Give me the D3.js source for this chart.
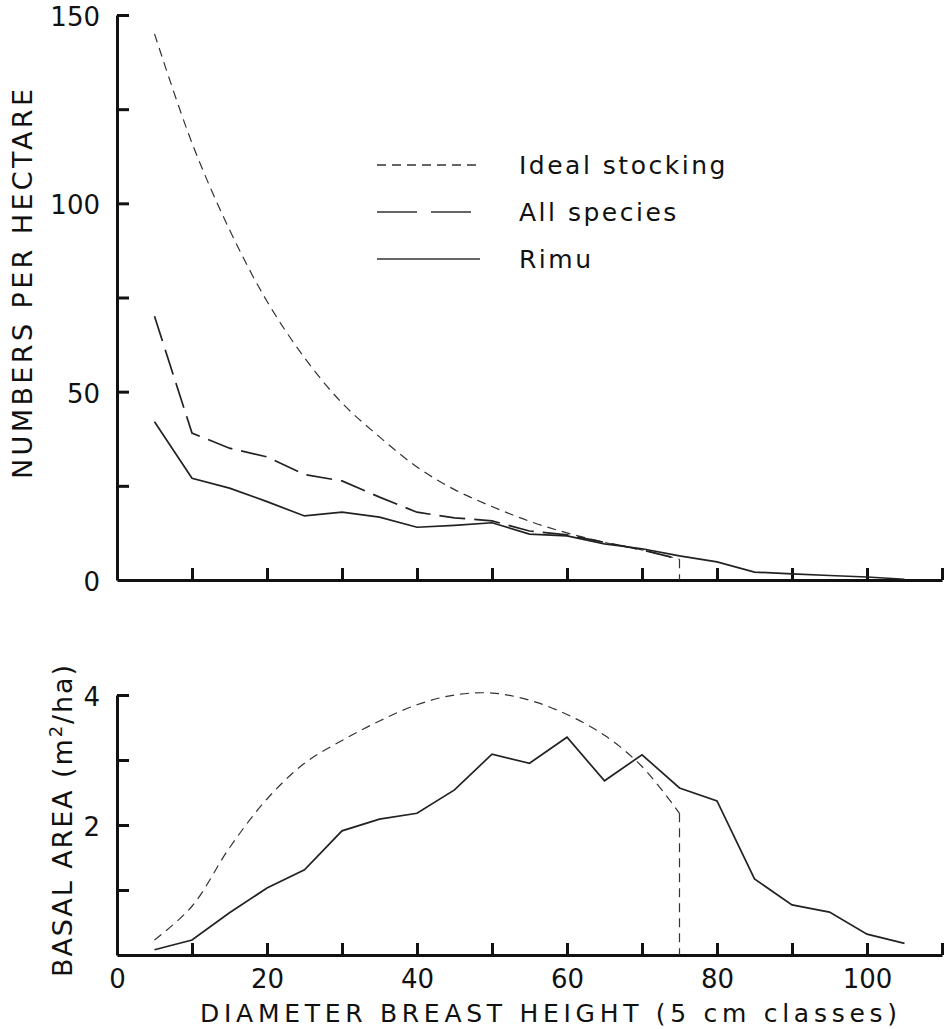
<!DOCTYPE html>
<html>
<head>
<meta charset="utf-8">
<script src="https://cdn.jsdelivr.net/npm/d3@7"></script>
<style>
  body { margin: 0; background: #fff; }
  svg text { font-family: "DejaVu Sans", sans-serif; fill: #111; }
  .axis path, .axis line { stroke: #111; stroke-width: 3; }
  .axis text { font-size: 26px; }
</style>
</head>
<body>
<script>
//diameter classes (5 cm)
var dbhClasses = [5,10,15,20,25,30,35,40,45,50,55,60,65,70,75,80,85,90,95,100,105];
//numbers per hectare
var idealNumbers = [145,116,93,74,59,47,38,30,24,19.5,15.6,12.5,10,8,5.5];
var allNumbers = [70,39,35,32.7,28,26.3,22,18,16.5,15.7,13,12,10,8,5.5];
var rimuNumbers = [42,27,24.4,20.8,17,18,16.7,14,14.5,15.2,12.2,11.7,9.6,8.3,6.4,4.8,2.1,1.6,1.2,0.8,0.2];
//basal area m2/ha
var idealBasal = [0.23,0.75,1.65,2.4,2.95,3.3,3.6,3.85,4.0,4.03,3.92,3.7,3.38,2.9,2.18];
var rimuBasal = [0.08,0.23,0.65,1.03,1.31,1.91,2.09,2.18,2.54,3.09,2.95,3.35,2.68,3.08,2.57,2.37,1.17,0.77,0.66,0.32,0.18];
//ticks
var xTicks = [10,20,30,40,50,60,70,80,90,100,110];
var xLabels = [0,20,40,60,80,100];
var topYTicks = [25,50,75,100,125,150];
var topYLabels = [0,50,100,150];
var botYTicks = [1,2,3,4];
var botYLabels = [2,4];
var legendNames = ["Ideal stocking","All species","Rimu"];

var width = 952, height = 1029;
var svg = d3.select("body").append("svg")
    .attr("width", width)
    .attr("height", height);

var x = d3.scaleLinear().domain([0,110]).range([117,942]);
var yTop = d3.scaleLinear().domain([0,150]).range([580,15]);
var yBot = d3.scaleLinear().domain([0,4]).range([955,695]);

var idealDash = "9,6", allDash = "26,9";

function pairs(vals){
    return vals.map(function(v,i){ return [dbhClasses[i], v]; });
}

function drawLine(y, vals, dash, width, curve, color){
    var line = d3.line()
        .x(function(d){ return x(d[0]); })
        .y(function(d){ return y(d[1]); })
        .curve(curve || d3.curveLinear);
    svg.append("path")
        .datum(pairs(vals))
        .attr("d", line)
        .attr("fill", "none")
        .attr("stroke", color || "#222")
        .attr("stroke-width", width)
        .attr("stroke-dasharray", dash);
}

//vertical drop at the last class of a series
function drawDrop(y, vals, dash, width){
    var i = vals.length - 1;
    svg.append("line")
        .attr("x1", x(dbhClasses[i])).attr("x2", x(dbhClasses[i]))
        .attr("y1", y(vals[i])).attr("y2", y(0))
        .attr("stroke", "#333")
        .attr("stroke-width", width)
        .attr("stroke-dasharray", dash);
}

function drawAxes(y, yTicks, yLabels, showXLabels){
    //x ticks
    svg.append("g").attr("class", "axis")
        .attr("transform", "translate(0," + y(0) + ")")
        .call(d3.axisBottom(x).tickValues(xTicks).tickSize(-12).tickSizeOuter(0).tickFormat(""));
    if (showXLabels){
        var g = svg.append("g").attr("class", "axis")
            .attr("transform", "translate(0," + y(0) + ")")
            .call(d3.axisBottom(x).tickValues(xLabels).tickSize(0).tickPadding(15));
        g.select(".domain").remove();
    }
    //y ticks
    svg.append("g").attr("class", "axis")
        .attr("transform", "translate(" + x(0) + ",0)")
        .call(d3.axisLeft(y).tickValues(yTicks).tickSize(-12).tickSizeOuter(0).tickFormat(""));
    var gy = svg.append("g").attr("class", "axis")
        .attr("transform", "translate(" + x(0) + ",0)")
        .call(d3.axisLeft(y).tickValues(yLabels).tickSize(0).tickPadding(17).tickFormat(d3.format("d")));
    gy.select(".domain").remove();
    gy.selectAll("text").attr("dy", "0.4em");
}

//top panel
drawAxes(yTop, topYTicks, topYLabels, false);
drawLine(yTop, idealNumbers, idealDash, 1.2, d3.curveCatmullRom, "#333");
drawDrop(yTop, idealNumbers, idealDash, 1.2);
drawLine(yTop, allNumbers, allDash, 1.7);
drawLine(yTop, rimuNumbers, null, 1.7);

//legend
var legendY = [165, 212, 259];
var legendDash = [idealDash, "40,14", null];
legendNames.forEach(function(name, i){
    svg.append("line")
        .attr("x1", 377).attr("x2", 480)
        .attr("y1", legendY[i]).attr("y2", legendY[i])
        .attr("stroke", "#333").attr("stroke-width", 1.4)
        .attr("stroke-dasharray", legendDash[i]);
    svg.append("text")
        .attr("x", 519).attr("y", legendY[i] + 9)
        .style("font-size", "25px")
        .style("letter-spacing", "2.5px")
        .text(name);
});

//bottom panel
drawAxes(yBot, botYTicks, botYLabels, true);
drawLine(yBot, idealBasal, idealDash, 1.2, d3.curveCatmullRom, "#333");
drawDrop(yBot, idealBasal, idealDash, 1.2);
drawLine(yBot, rimuBasal.concat([0]), null, 1.7);

//axis titles
svg.append("text")
    .attr("transform", "translate(32,284) rotate(-90)")
    .attr("text-anchor", "middle")
    .attr("textLength", 390)
    .attr("lengthAdjust", "spacing")
    .style("font-size", "27px")
    .text("NUMBERS PER HECTARE");

var bt = svg.append("text")
    .attr("transform", "translate(72,821) rotate(-90)")
    .attr("text-anchor", "middle")
    .attr("textLength", 312)
    .attr("lengthAdjust", "spacing")
    .style("font-size", "27px");
bt.append("tspan").text("BASAL  AREA (m");
bt.append("tspan").attr("dy", -10).style("font-size", "18px").text("2");
bt.append("tspan").attr("dy", 10).text("/ha)");

svg.append("text")
    .attr("x", 200).attr("y", 1022)
    .attr("textLength", 697)
    .attr("lengthAdjust", "spacing")
    .style("font-size", "25px")
    .text("DIAMETER  BREAST  HEIGHT  (5 cm  classes)");
</script>
</body>
</html>
